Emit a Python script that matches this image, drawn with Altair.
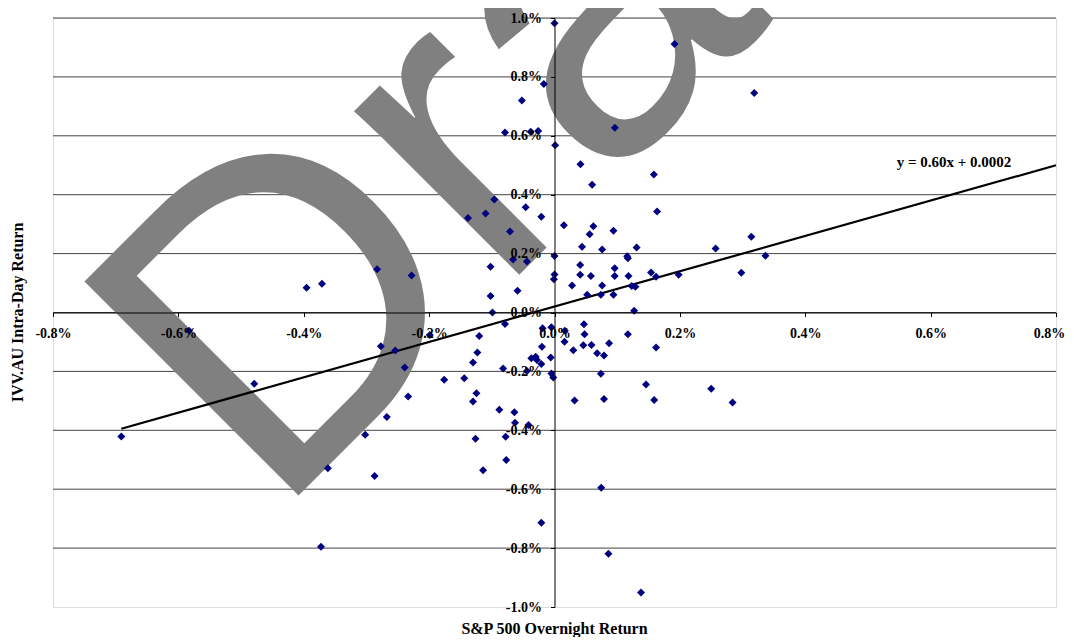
import altair as alt
import pandas as pd

# S&P 500 overnight return (%) and IVV.AU intra-day return (%)
overnight_pct = [
    0.0, -0.017, -0.052, -0.079, -0.038, -0.026, 0.001, 0.1915, 0.0963, 0.3186,
    0.0415, 0.1585, 0.060, 0.1636, -0.096, -0.138, -0.110, -0.046, -0.021, -0.071,
    0.015, 0.062, 0.056, 0.094, 0.044, 0.076, 0.131, 0.116, 0.117, 0.0,
    -0.066, -0.044, -0.102, 0.0, -0.001, 0.041, 0.096, 0.041, 0.058, 0.096,
    0.118, 0.154, 0.162, 0.198, 0.028, 0.076, 0.123, 0.129, 0.052, 0.074,
    0.094, 0.127, -0.059, -0.102, -0.099, 0.257, 0.314, 0.298, 0.3365, -0.3955,
    -0.371, -0.283, -0.228,
    -0.079, -0.120, -0.123, -0.130, -0.082, -0.176, -0.144, -0.1245, -0.130, -0.088,
    -0.064, -0.063, -0.0415, -0.126, -0.078, -0.077, -0.114, -0.019, -0.005, -0.020,
    -0.037, -0.030, -0.028, -0.021, -0.006, -0.044, -0.005, -0.002, -0.199, -0.021,
    -0.691, -0.583, -0.479, -0.277, -0.254, -0.239, -0.2335, -0.2675, -0.302, -0.3615,
    -0.287, -0.3725, 0.0165, 0.047, 0.048, 0.016, 0.030, 0.046, 0.059, 0.087,
    0.117, 0.162, 0.068, 0.079, 0.074, 0.146, 0.032, 0.079, 0.159, 0.250,
    0.284, 0.0745, 0.086, 0.138,
]
intraday_pct = [
    0.982, 0.776, 0.720, 0.611, 0.614, 0.616, 0.568, 0.912, 0.627, 0.745,
    0.503, 0.469, 0.434, 0.343, 0.384, 0.321, 0.336, 0.357, 0.325, 0.275,
    0.296, 0.293, 0.266, 0.278, 0.223, 0.214, 0.221, 0.191, 0.184, 0.192,
    0.180, 0.173, 0.155, 0.129, 0.113, 0.161, 0.150, 0.128, 0.124, 0.124,
    0.124, 0.136, 0.121, 0.128, 0.092, 0.092, 0.090, 0.0875, 0.060, 0.060,
    0.060, 0.006, 0.074, 0.056, 0.0, 0.2175, 0.257, 0.135, 0.1925, 0.084,
    0.098, 0.147, 0.126,
    -0.039, -0.080, -0.136, -0.170, -0.190, -0.228, -0.223, -0.274, -0.302, -0.330,
    -0.339, -0.374, -0.382, -0.4285, -0.422, -0.501, -0.536, -0.0535, -0.050, -0.116,
    -0.155, -0.150, -0.161, -0.1745, -0.153, -0.199, -0.207, -0.221, -0.076, -0.714,
    -0.421, -0.062, -0.242, -0.115, -0.129, -0.187, -0.285, -0.355, -0.415, -0.529,
    -0.555, -0.795, -0.062, -0.040, -0.074, -0.099, -0.128, -0.111, -0.110, -0.104,
    -0.074, -0.119, -0.138, -0.146, -0.208, -0.2445, -0.299, -0.294, -0.2975, -0.259,
    -0.3055, -0.5955, -0.819, -0.951,
]

x_ticks = [-0.8, -0.6, -0.4, -0.2, 0.0, 0.2, 0.4, 0.6, 0.8]
y_ticks = [-1.0, -0.8, -0.6, -0.4, -0.2, 0.0, 0.2, 0.4, 0.6, 0.8, 1.0]
grid_lines = [-0.8, -0.6, -0.4, -0.2, 0.0, 0.2, 0.4, 0.6, 0.8, 1.0]

trend_slope = 0.60
trend_intercept_pct = 0.02   # 0.0002 as a fraction
trend_x = [-0.691, 0.8]
trend_label = "y = 0.60x + 0.0002"

W, H = 1003, 589
SERIF = "Liberation Serif"

points = pd.DataFrame({"overnight": overnight_pct, "intraday": intraday_pct})
trend = pd.DataFrame({
    "overnight": trend_x,
    "intraday": [trend_slope * v + trend_intercept_pct for v in trend_x],
})
grid = pd.DataFrame({"intraday": grid_lines})
one = pd.DataFrame({"k": [0]})

xscale = alt.Scale(domain=[-0.8, 0.8], nice=False, zero=False)
yscale = alt.Scale(domain=[-1.0, 1.0], nice=False, zero=False)
label_expr = "replace(format(datum.value, '.1f'), '\u2212', '-') + '%'"

x_axis = alt.Axis(
    values=x_ticks, labelExpr=label_expr, offset=-H / 2, grid=False, title=None,
    domainColor="black", domainWidth=1, tickColor="black", tickSize=4,
    labelPadding=10, labelFont=SERIF, labelFontWeight="bold", labelFontSize=14,
    labelColor="black", labelOverlap=False, labelFlush=False, zindex=2,
    labelOffset={"condition": {"test": "datum.value >= 0.79", "value": -7}, "value": 0},
)
y_axis = alt.Axis(
    values=y_ticks, labelExpr=label_expr, offset=-W / 2, grid=False, title=None,
    domainColor="black", domainWidth=1, tickColor="black", tickSize=4,
    labelPadding=9, labelFont=SERIF, labelFontWeight="bold", labelFontSize=14,
    labelColor="black", labelOverlap=False, labelFlush=False, zindex=2,
)

grid_layer = alt.Chart(grid).mark_rule(color="#444444", strokeWidth=1).encode(
    y=alt.Y("intraday:Q", scale=yscale, axis=y_axis)
)

watermark = alt.Chart(one).mark_text(
    text="Draft", font="Liberation Sans", fontSize=440, color="#808080",
    angle=315, align="left", baseline="alphabetic",
).encode(x=alt.value(220), y=alt.value(503))

trend_layer = alt.Chart(trend).mark_line(color="black", strokeWidth=2.2).encode(
    x=alt.X("overnight:Q", scale=xscale, axis=x_axis),
    y=alt.Y("intraday:Q", scale=yscale, axis=y_axis),
)

point_layer = alt.Chart(points).mark_point(
    shape="diamond", filled=True, size=64, color="#000080", opacity=1
).encode(
    x=alt.X("overnight:Q", scale=xscale, axis=x_axis),
    y=alt.Y("intraday:Q", scale=yscale, axis=y_axis),
)

eq_text = alt.Chart(one).mark_text(
    text=trend_label, font=SERIF, fontWeight="bold", fontSize=15, color="black",
    align="center", baseline="middle",
).encode(x=alt.value(901), y=alt.value(144))

y_title = alt.Chart(one).mark_text(
    text="IVV.AU Intra-Day Return", font=SERIF, fontWeight="bold", fontSize=16,
    color="black", angle=270, align="center", baseline="middle",
).encode(x=alt.value(-35), y=alt.value(H / 2))

x_title = alt.Chart(one).mark_text(
    text="S&P 500 Overnight Return", font=SERIF, fontWeight="bold", fontSize=16,
    color="black", align="center", baseline="middle",
).encode(x=alt.value(W / 2), y=alt.value(611))

chart = alt.layer(
    grid_layer, watermark, trend_layer, point_layer, eq_text, y_title, x_title
).properties(
    width=W, height=H,
    autosize=alt.AutoSizeParams(type="none"),
    padding={"left": 45, "top": 10, "right": 10, "bottom": 30},
).configure_view(stroke="#8c8c8c", strokeWidth=1).configure(background="white")

chart.save("out.html", embed_options={"renderer": "svg", "actions": False})
